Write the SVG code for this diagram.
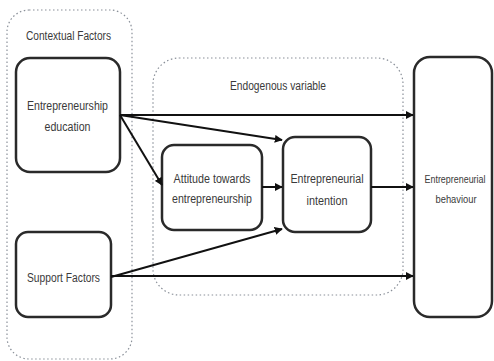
<svg xmlns="http://www.w3.org/2000/svg" width="494" height="361" viewBox="0 0 494 361">
<style>
.grp{fill:none;stroke:#8a9099;stroke-width:1.2;stroke-dasharray:1.5 2.5}
.node{fill:#fff;stroke:#2a2a2a;stroke-width:2.5}
.lbl{font-family:"Liberation Sans",Arial,sans-serif;font-size:12.5px;fill:#3a3a3a;text-anchor:middle}
.sm{font-size:10px}
.edge{fill:none;stroke:#111;stroke-width:2}
</style>
<defs>
<marker id="ah" viewBox="0 0 10 10" refX="9" refY="5" markerWidth="4" markerHeight="4" orient="auto" markerUnits="strokeWidth">
<path d="M0,0 L10,5 L0,10 z" fill="#111"/>
</marker>
</defs>
<g id="contextual-factors">
<rect class="grp" x="7" y="10" width="125" height="349" rx="22"/>
<text class="lbl" x="68.5" y="40" textLength="85" lengthAdjust="spacingAndGlyphs">Contextual Factors</text>
</g>
<g id="endogenous-variable">
<rect class="grp" x="153" y="58" width="250" height="237" rx="26"/>
<text class="lbl" x="278" y="90" textLength="96" lengthAdjust="spacingAndGlyphs">Endogenous variable</text>
</g>
<g id="entrepreneurship-education">
<rect class="node" x="16" y="58" width="104" height="114" rx="14"/>
<text class="lbl" x="67.5" y="110" textLength="81" lengthAdjust="spacingAndGlyphs">Entrepreneurship</text>
<text class="lbl" x="67.5" y="131" textLength="46" lengthAdjust="spacingAndGlyphs">education</text>
</g>
<g id="support-factors">
<rect class="node" x="16" y="232" width="95" height="85" rx="12"/>
<text class="lbl" x="63.5" y="282" textLength="73" lengthAdjust="spacingAndGlyphs">Support Factors</text>
</g>
<g id="attitude">
<rect class="node" x="162" y="145" width="100" height="85" rx="12"/>
<text class="lbl" x="212" y="183" textLength="77" lengthAdjust="spacingAndGlyphs">Attitude towards</text>
<text class="lbl" x="212" y="203" textLength="80" lengthAdjust="spacingAndGlyphs">entrepreneurship</text>
</g>
<g id="intention">
<rect class="node" x="283" y="137" width="88" height="95" rx="12"/>
<text class="lbl" x="327" y="183" textLength="73" lengthAdjust="spacingAndGlyphs">Entrepreneurial</text>
<text class="lbl" x="327" y="205" textLength="41" lengthAdjust="spacingAndGlyphs">intention</text>
</g>
<g id="behaviour">
<rect class="node" x="414" y="57" width="78" height="260" rx="16"/>
<text class="lbl sm" x="455" y="183" textLength="61" lengthAdjust="spacingAndGlyphs">Entrepreneurial</text>
<text class="lbl sm" x="456" y="203" textLength="41" lengthAdjust="spacingAndGlyphs">behaviour</text>
</g>
<g id="connectors">
<line class="edge" x1="120" y1="115" x2="413" y2="115" marker-end="url(#ah)"/>
<line class="edge" x1="120" y1="115" x2="282" y2="140" marker-end="url(#ah)"/>
<line class="edge" x1="120" y1="115" x2="162" y2="185" marker-end="url(#ah)"/>
<line class="edge" x1="262" y1="187" x2="282" y2="187" marker-end="url(#ah)"/>
<line class="edge" x1="111" y1="277" x2="282" y2="229" marker-end="url(#ah)"/>
<line class="edge" x1="111" y1="276" x2="413" y2="276" marker-end="url(#ah)"/>
<line class="edge" x1="371" y1="187" x2="413" y2="187" marker-end="url(#ah)"/>
</g>
</svg>
